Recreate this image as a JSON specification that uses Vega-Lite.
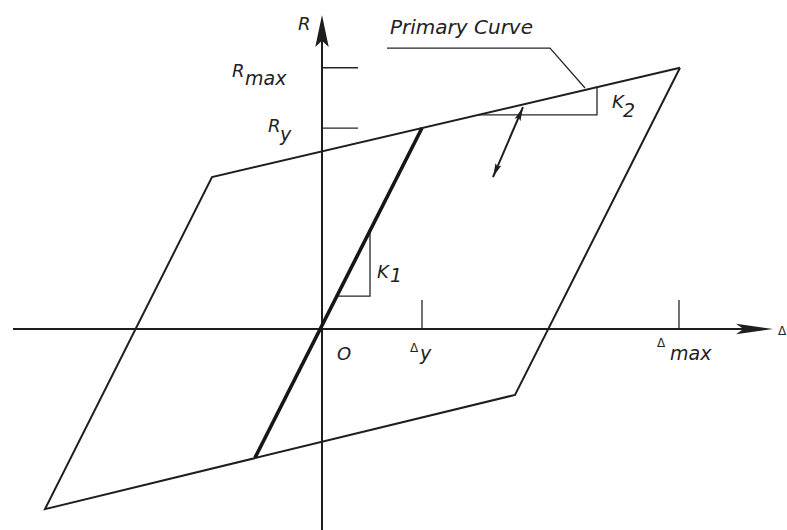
{
  "$schema": "https://vega.github.io/schema/vega-lite/v6.json",
  "width": 787,
  "height": 530,
  "padding": 0,
  "autosize": {"type": "none"},
  "background": "#ffffff",
  "config": {"view": {"stroke": null}},
  "datasets": {
    "paths": [
      {"part": "loop", "id": "loop", "ord": 1, "d": 3.58, "r": 1.30},
      {"part": "loop", "id": "loop", "ord": 2, "d": -1.10, "r": 0.756},
      {"part": "loop", "id": "loop", "ord": 3, "d": -2.77, "r": -0.896},
      {"part": "loop", "id": "loop", "ord": 4, "d": 1.93, "r": -0.328},
      {"part": "loop", "id": "loop", "ord": 5, "d": 3.58, "r": 1.30},
      {"part": "elastic", "id": "elastic", "ord": 1, "d": -0.67, "r": -0.64},
      {"part": "elastic", "id": "elastic", "ord": 2, "d": 1.0, "r": 1.0},
      {"part": "axis", "id": "delta-axis", "ord": 1, "d": -3.09, "r": 0},
      {"part": "axis", "id": "delta-axis", "ord": 2, "d": 4.42, "r": 0},
      {"part": "axis", "id": "R-axis", "ord": 1, "d": 0, "r": -1.0},
      {"part": "axis", "id": "R-axis", "ord": 2, "d": 0, "r": 1.46},
      {"part": "axis", "id": "shift", "ord": 1, "d": 2.01, "r": 1.104},
      {"part": "axis", "id": "shift", "ord": 2, "d": 1.71, "r": 0.756},
      {"part": "fine", "id": "tick-Rmax", "ord": 1, "d": 0, "r": 1.30},
      {"part": "fine", "id": "tick-Rmax", "ord": 2, "d": 0.36, "r": 1.30},
      {"part": "fine", "id": "tick-Ry", "ord": 1, "d": 0, "r": 1.0},
      {"part": "fine", "id": "tick-Ry", "ord": 2, "d": 0.36, "r": 1.0},
      {"part": "fine", "id": "tick-dy", "ord": 1, "d": 1.0, "r": 0},
      {"part": "fine", "id": "tick-dy", "ord": 2, "d": 1.0, "r": 0.144},
      {"part": "fine", "id": "tick-dmax", "ord": 1, "d": 3.57, "r": 0},
      {"part": "fine", "id": "tick-dmax", "ord": 2, "d": 3.57, "r": 0.144},
      {"part": "fine", "id": "K1", "ord": 1, "d": 0.15, "r": 0.164},
      {"part": "fine", "id": "K1", "ord": 2, "d": 0.48, "r": 0.164},
      {"part": "fine", "id": "K1", "ord": 3, "d": 0.48, "r": 0.488},
      {"part": "fine", "id": "K2", "ord": 1, "d": 1.56, "r": 1.065},
      {"part": "fine", "id": "K2", "ord": 2, "d": 2.75, "r": 1.065},
      {"part": "fine", "id": "K2", "ord": 3, "d": 2.75, "r": 1.205},
      {"part": "fine", "id": "leader", "ord": 1, "d": 0.65, "r": 1.398},
      {"part": "fine", "id": "leader", "ord": 2, "d": 2.28, "r": 1.398},
      {"part": "fine", "id": "leader", "ord": 3, "d": 2.63, "r": 1.199}
    ],
    "heads": [
      {"head": "delta-axis", "d": 4.51, "r": 0},
      {"head": "R-axis", "d": 0, "r": 1.562},
      {"head": "shift-up", "d": 2.01, "r": 1.104},
      {"head": "shift-down", "d": 1.71, "r": 0.756}
    ],
    "labels": [
      {"role": "main", "text": "R", "d": -0.24, "r": 1.488},
      {"role": "main", "text": "R", "d": -0.90, "r": 1.254},
      {"role": "sub", "text": "max", "d": -0.77, "r": 1.214},
      {"role": "main", "text": "R", "d": -0.54, "r": 0.980},
      {"role": "sub", "text": "y", "d": -0.42, "r": 0.935},
      {"role": "main", "text": "K", "d": 0.55, "r": 0.254},
      {"role": "sub", "text": "1", "d": 0.68, "r": 0.234},
      {"role": "main", "text": "K", "d": 2.90, "r": 1.10},
      {"role": "sub", "text": "2", "d": 3.01, "r": 1.055},
      {"role": "main", "text": "O", "d": 0.15, "r": -0.154},
      {"role": "delta", "text": "Δ", "d": 0.88, "r": -0.114},
      {"role": "sub", "text": "y", "d": 0.98, "r": -0.154},
      {"role": "delta", "text": "Δ", "d": 3.35, "r": -0.090},
      {"role": "sub", "text": "max", "d": 3.48, "r": -0.154},
      {"role": "delta", "text": "Δ", "d": 4.56, "r": -0.03},
      {"role": "title", "text": "Primary Curve", "d": 0.68, "r": 1.468}
    ]
  },
  "layer": [
    {
      "data": {"name": "paths"},
      "transform": [{"filter": {"field": "part", "equal": "fine"}}],
      "mark": {"type": "line", "color": "#262626", "strokeWidth": 1.3, "strokeJoin": "miter"},
      "encoding": {
        "x": {"field": "d", "type": "quantitative", "scale": {"domain": [-3.22, 4.65], "nice": false, "zero": false}, "axis": null},
        "y": {"field": "r", "type": "quantitative", "scale": {"domain": [-1.0, 1.637], "nice": false, "zero": false}, "axis": null},
        "detail": {"field": "id"},
        "order": {"field": "ord", "type": "quantitative"}
      }
    },
    {
      "data": {"name": "paths"},
      "transform": [{"filter": {"field": "part", "oneOf": ["axis", "loop"]}}],
      "mark": {"type": "line", "color": "#1e1e1e", "strokeWidth": 2, "strokeJoin": "miter"},
      "encoding": {
        "x": {"field": "d", "type": "quantitative"},
        "y": {"field": "r", "type": "quantitative"},
        "detail": {"field": "id"},
        "order": {"field": "ord", "type": "quantitative"}
      }
    },
    {
      "data": {"name": "paths"},
      "transform": [{"filter": {"field": "part", "equal": "elastic"}}],
      "mark": {"type": "line", "color": "#161616", "strokeWidth": 3.6},
      "encoding": {
        "x": {"field": "d", "type": "quantitative"},
        "y": {"field": "r", "type": "quantitative"},
        "order": {"field": "ord", "type": "quantitative"}
      }
    },
    {
      "data": {"name": "heads"},
      "transform": [{"filter": {"field": "head", "equal": "delta-axis"}}],
      "mark": {"type": "point", "shape": "M0,0 L-2,-0.28 L-1.6,0 L-2,0.28 Z", "filled": true, "size": 1369, "color": "#1e1e1e", "opacity": 1},
      "encoding": {
        "x": {"field": "d", "type": "quantitative"},
        "y": {"field": "r", "type": "quantitative"}
      }
    },
    {
      "data": {"name": "heads"},
      "transform": [{"filter": {"field": "head", "equal": "R-axis"}}],
      "mark": {"type": "point", "shape": "M0,0 L0.42,2 L0,1.6 L-0.42,2 Z", "filled": true, "size": 1024, "color": "#1e1e1e", "opacity": 1},
      "encoding": {
        "x": {"field": "d", "type": "quantitative"},
        "y": {"field": "r", "type": "quantitative"}
      }
    },
    {
      "data": {"name": "heads"},
      "transform": [{"filter": {"field": "head", "equal": "shift-up"}}],
      "mark": {"type": "point", "shape": "M0,0 L0.45,2 L0,1.6 L-0.45,2 Z", "filled": true, "size": 196, "angle": 23, "color": "#1e1e1e", "opacity": 1},
      "encoding": {
        "x": {"field": "d", "type": "quantitative"},
        "y": {"field": "r", "type": "quantitative"}
      }
    },
    {
      "data": {"name": "heads"},
      "transform": [{"filter": {"field": "head", "equal": "shift-down"}}],
      "mark": {"type": "point", "shape": "M0,0 L0.45,2 L0,1.6 L-0.45,2 Z", "filled": true, "size": 196, "angle": 203, "color": "#1e1e1e", "opacity": 1},
      "encoding": {
        "x": {"field": "d", "type": "quantitative"},
        "y": {"field": "r", "type": "quantitative"}
      }
    },
    {
      "data": {"name": "labels"},
      "transform": [{"filter": {"field": "role", "equal": "main"}}],
      "mark": {"type": "text", "align": "left", "baseline": "alphabetic", "font": "DejaVu Sans", "fontStyle": "italic", "fontSize": 18, "color": "#222222"},
      "encoding": {
        "x": {"field": "d", "type": "quantitative"},
        "y": {"field": "r", "type": "quantitative"},
        "text": {"field": "text"}
      }
    },
    {
      "data": {"name": "labels"},
      "transform": [{"filter": {"field": "role", "equal": "sub"}}],
      "mark": {"type": "text", "align": "left", "baseline": "alphabetic", "font": "DejaVu Sans", "fontStyle": "italic", "fontSize": 19, "color": "#222222"},
      "encoding": {
        "x": {"field": "d", "type": "quantitative"},
        "y": {"field": "r", "type": "quantitative"},
        "text": {"field": "text"}
      }
    },
    {
      "data": {"name": "labels"},
      "transform": [{"filter": {"field": "role", "equal": "delta"}}],
      "mark": {"type": "text", "align": "left", "baseline": "alphabetic", "font": "DejaVu Sans", "fontSize": 12, "color": "#222222"},
      "encoding": {
        "x": {"field": "d", "type": "quantitative"},
        "y": {"field": "r", "type": "quantitative"},
        "text": {"field": "text"}
      }
    },
    {
      "data": {"name": "labels"},
      "transform": [{"filter": {"field": "role", "equal": "title"}}],
      "mark": {"type": "text", "align": "left", "baseline": "alphabetic", "font": "DejaVu Sans", "fontStyle": "italic", "fontSize": 20, "color": "#222222"},
      "encoding": {
        "x": {"field": "d", "type": "quantitative"},
        "y": {"field": "r", "type": "quantitative"},
        "text": {"field": "text"}
      }
    }
  ]
}
